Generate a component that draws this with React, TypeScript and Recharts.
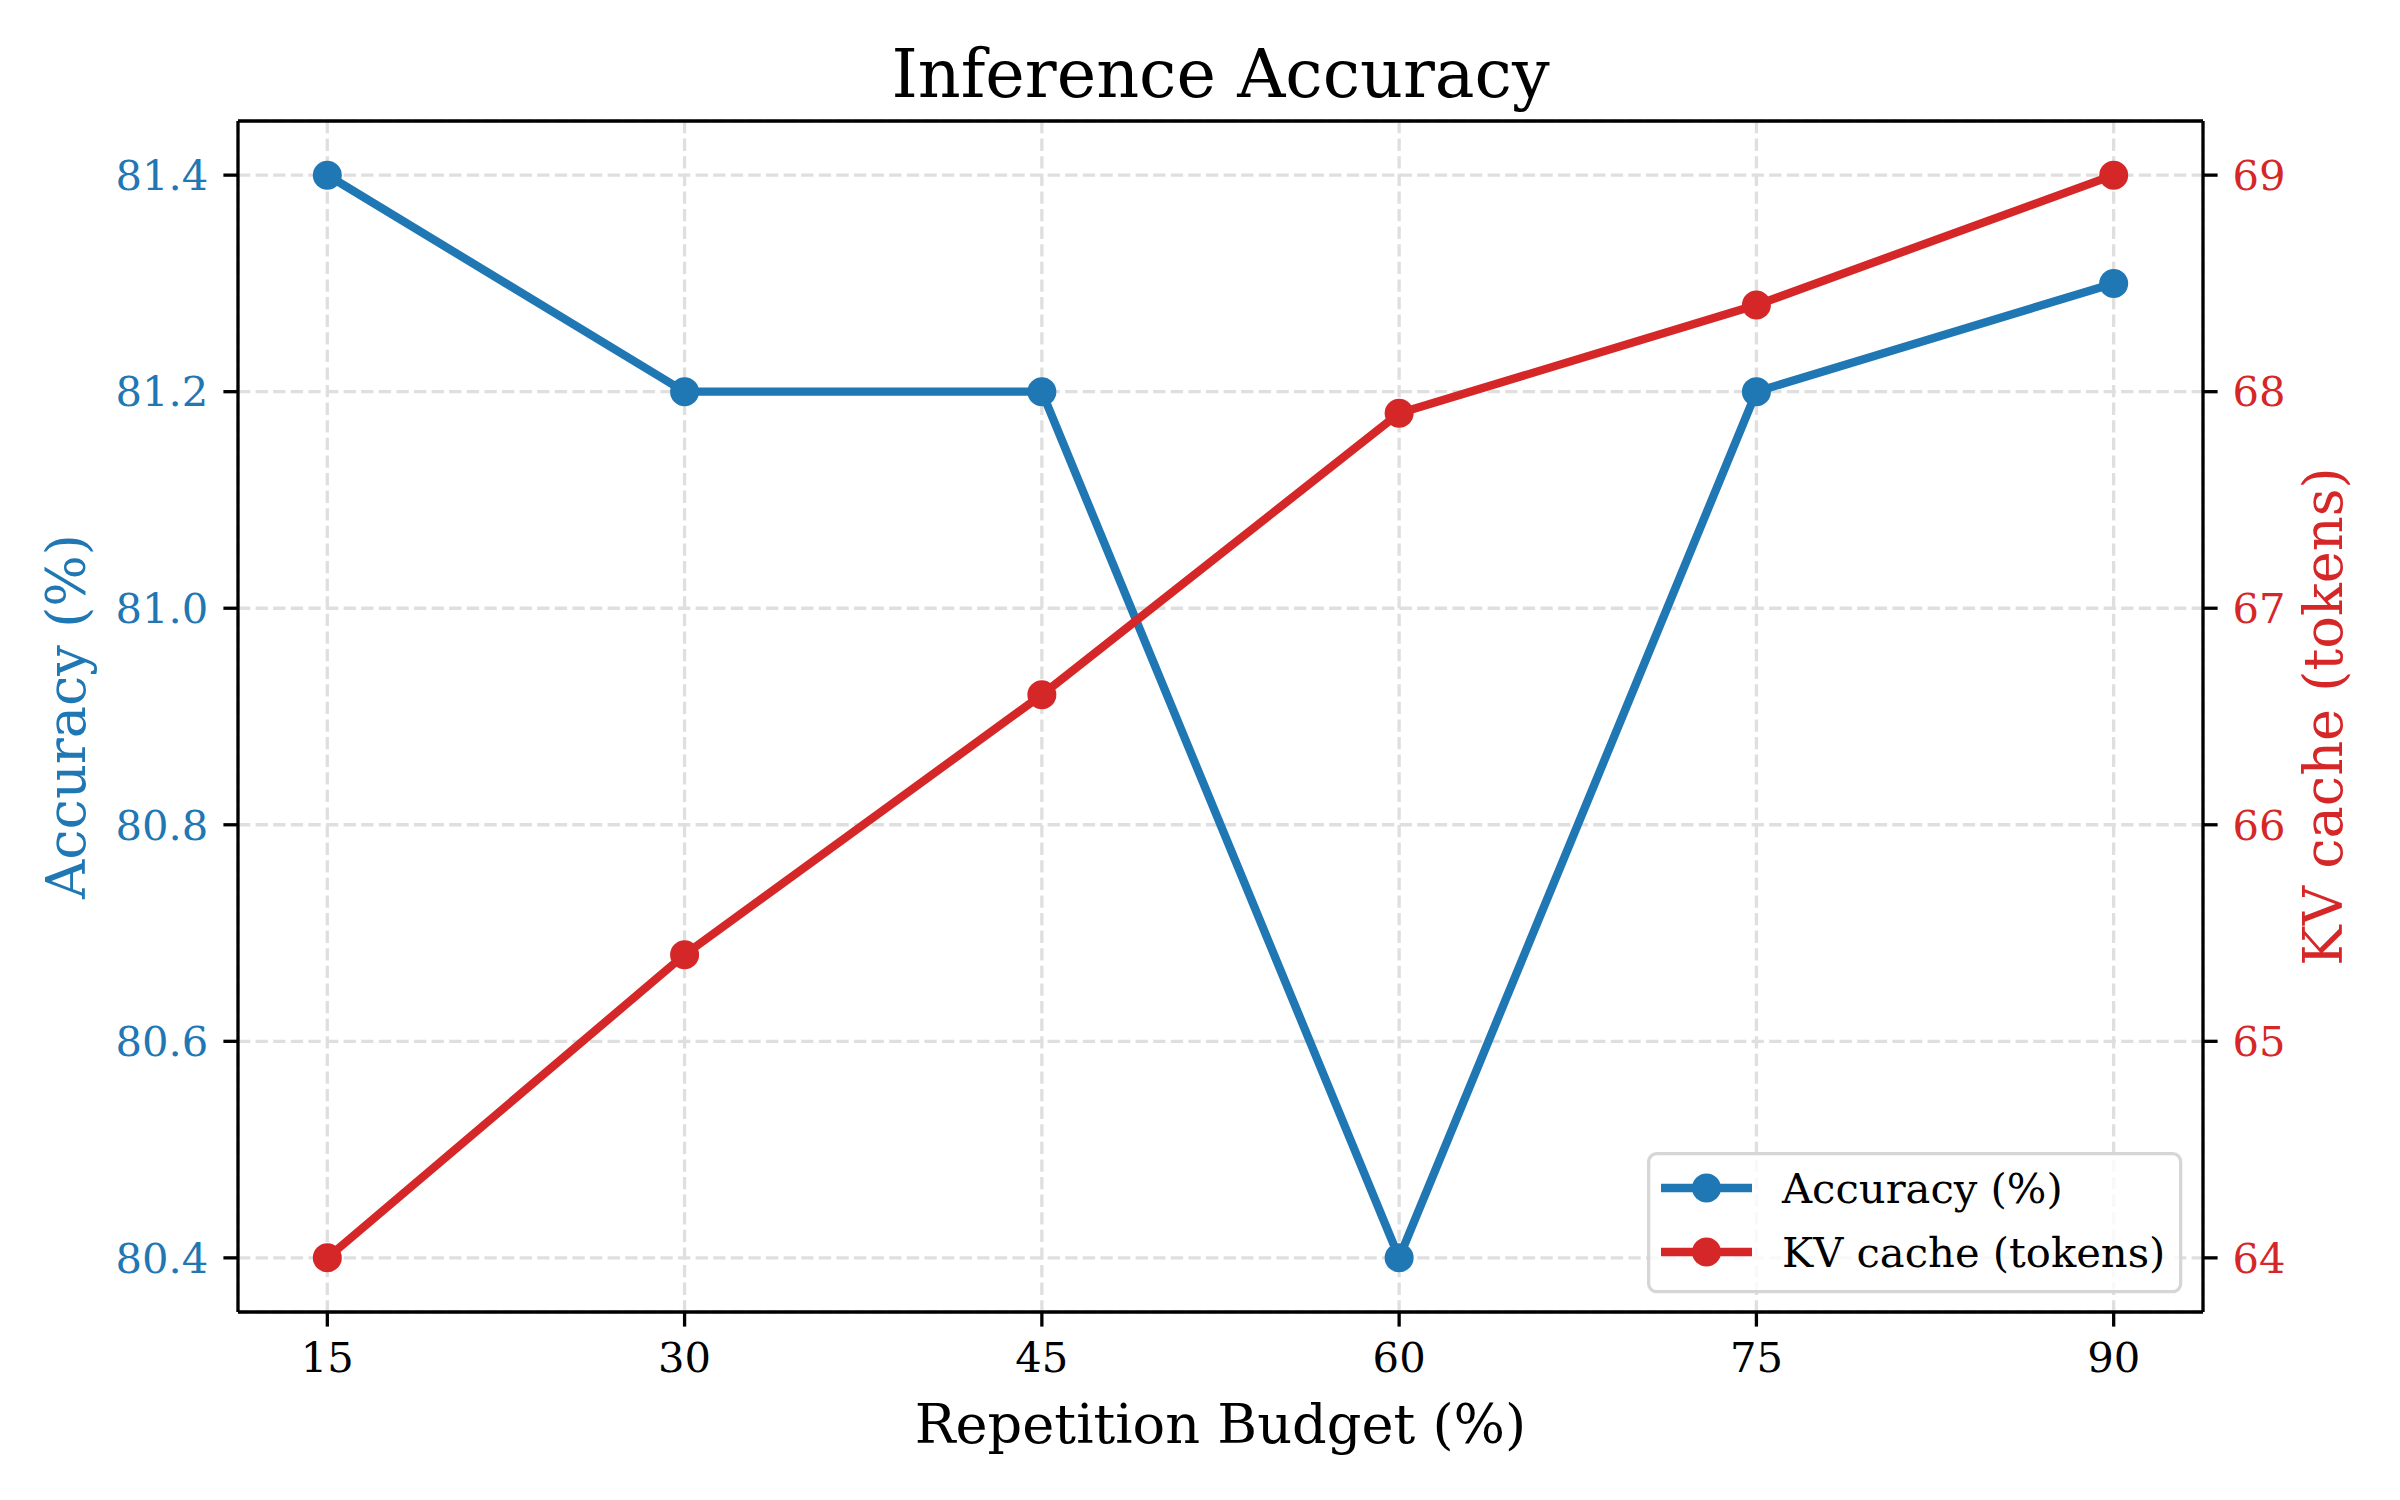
import React from 'react';
import { LineChart, Line, XAxis, YAxis, CartesianGrid, Legend, Label } from 'recharts';

// Repetition budget (%) on the x axis
const budgets = [15, 30, 45, 60, 75, 90];
// Accuracy (%) per budget, left axis
const accuracy = [81.4, 81.2, 81.2, 80.4, 81.2, 81.3];
// KV cache size (tokens) per budget, right axis
const kvCache = [64, 65.4, 66.6, 67.9, 68.4, 69];

const xTicks = [15, 30, 45, 60, 75, 90];
const accTicks = [80.4, 80.6, 80.8, 81.0, 81.2, 81.4];
const kvTicks = [64, 65, 66, 67, 68, 69];

const data = budgets.map((b, i) => ({ budget: b, accuracy: accuracy[i], kv: kvCache[i] }));

const FONT = 'DejaVu Serif';
const BLUE = '#1f77b4';
const RED = '#d62728';
const TICK_PX = 41.7;
const LABEL_PX = 54.2;
const TITLE_PX = 66.7;
const SPINE = 3.3;

const TitleLabel = (props: any) => {
  const vb = props.viewBox || {};
  return (
    <text x={vb.x + vb.width / 2} y={vb.y + vb.height - 24.3} textAnchor="middle" fontFamily={FONT} fontSize={TITLE_PX} fill="#000">
      Inference Accuracy
    </text>
  );
};

const XLabel = (props: any) => {
  const vb = props.viewBox || {};
  return (
    <text x={vb.x + vb.width / 2} y={vb.y + 130.7} textAnchor="middle" fontFamily={FONT} fontSize={LABEL_PX} fill="#000">
      Repetition Budget (%)
    </text>
  );
};

const LeftLabel = (props: any) => {
  const vb = props.viewBox || {};
  const tx = vb.x + vb.width - 153;
  const ty = vb.y + vb.height / 2;
  return (
    <text x={tx} y={ty} transform={`rotate(-90, ${tx}, ${ty})`} textAnchor="middle" fontFamily={FONT} fontSize={LABEL_PX} fill={BLUE}>
      Accuracy (%)
    </text>
  );
};

const RightLabel = (props: any) => {
  const vb = props.viewBox || {};
  const tx = vb.x + 138.7;
  const ty = vb.y + vb.height / 2;
  return (
    <text x={tx} y={ty} transform={`rotate(-90, ${tx}, ${ty})`} textAnchor="middle" fontFamily={FONT} fontSize={LABEL_PX} fill={RED}>
      KV cache (tokens)
    </text>
  );
};

const legendItems = [
  { name: 'Accuracy (%)', color: BLUE },
  { name: 'KV cache (tokens)', color: RED },
];

const LegendBox = () => (
  <svg width={536} height={142} style={{ display: 'block' }}>
    <rect x={1.65} y={1.65} width={532} height={138} rx={8} ry={8} fill="#ffffff" fillOpacity={0.8} stroke="#d6d6d6" strokeWidth={SPINE} />
    {legendItems.map((it, i) => {
      const cy = 36 + i * 64;
      return (
        <g key={it.name}>
          <line x1={14} x2={105} y1={cy} y2={cy} stroke={it.color} strokeWidth={8.3} />
          <circle cx={59.5} cy={cy} r={14.5} fill={it.color} />
          <text x={135} y={cy + 14.7} fontFamily={FONT} fontSize={TICK_PX} fill="#000">
            {it.name}
          </text>
        </g>
      );
    })}
  </svg>
);

export default function App() {
  return (
    <div style={{ position: 'absolute', left: 0, top: 0, width: 2400, height: 1500, background: '#fff' }}>
      <LineChart width={2400} height={1500} data={data} margin={{ top: 120, right: 17, bottom: 38, left: 20 }}>
        <CartesianGrid
          yAxisId="left"
          stroke="#dfdfdf"
          strokeWidth={SPINE}
          strokeDasharray="12.3 5.3"
        />
        <XAxis
          dataKey="budget"
          type="number"
          domain={[11.25, 93.75]}
          ticks={xTicks}
          allowDataOverflow
          height={150}
          axisLine={{ stroke: '#000', strokeWidth: SPINE }}
          tickLine={{ stroke: '#000', strokeWidth: SPINE }}
          tickSize={14.6}
          tickMargin={16}
          tick={{ fontFamily: FONT, fontSize: TICK_PX, fill: '#000' }}
        >
          <Label content={XLabel} />
        </XAxis>
        <XAxis
          xAxisId="top"
          orientation="top"
          dataKey="budget"
          type="number"
          domain={[11.25, 93.75]}
          ticks={xTicks}
          allowDataOverflow
          tick={false}
          tickLine={false}
          height={1}
          axisLine={{ stroke: '#000', strokeWidth: SPINE }}
        >
          <Label content={TitleLabel} />
        </XAxis>
        <YAxis
          yAxisId="left"
          type="number"
          domain={[80.35, 81.45]}
          ticks={accTicks}
          allowDataOverflow
          width={218}
          axisLine={{ stroke: '#000', strokeWidth: SPINE }}
          tickLine={{ stroke: '#000', strokeWidth: SPINE }}
          tickSize={14.6}
          tickMargin={15}
          tickFormatter={(v: number) => v.toFixed(1)}
          tick={{ fontFamily: FONT, fontSize: TICK_PX, fill: BLUE }}
        >
          <Label content={LeftLabel} />
        </YAxis>
        <YAxis
          yAxisId="right"
          orientation="right"
          type="number"
          domain={[63.75, 69.25]}
          ticks={kvTicks}
          allowDataOverflow
          width={180}
          axisLine={{ stroke: '#000', strokeWidth: SPINE }}
          tickLine={{ stroke: '#000', strokeWidth: SPINE }}
          tickSize={14.6}
          tickMargin={15}
          tickFormatter={(v: number) => String(v)}
          tick={{ fontFamily: FONT, fontSize: TICK_PX, fill: RED }}
        >
          <Label content={RightLabel} />
        </YAxis>
        <Line
          yAxisId="left"
          type="linear"
          dataKey="accuracy"
          name="Accuracy (%)"
          stroke={BLUE}
          strokeWidth={8.3}
          dot={{ r: 14.5, fill: BLUE, stroke: 'none' }}
          activeDot={false}
          isAnimationActive={false}
        />
        <Line
          yAxisId="right"
          type="linear"
          dataKey="kv"
          name="KV cache (tokens)"
          stroke={RED}
          strokeWidth={8.3}
          dot={{ r: 14.5, fill: RED, stroke: 'none' }}
          activeDot={false}
          isAnimationActive={false}
        />
        <Legend
          layout="horizontal"
          verticalAlign="middle"
          align="center"
          wrapperStyle={{ left: 1647, top: 1152, width: 536, height: 142 }}
          content={() => <LegendBox />}
        />
      </LineChart>
    </div>
  );
}
